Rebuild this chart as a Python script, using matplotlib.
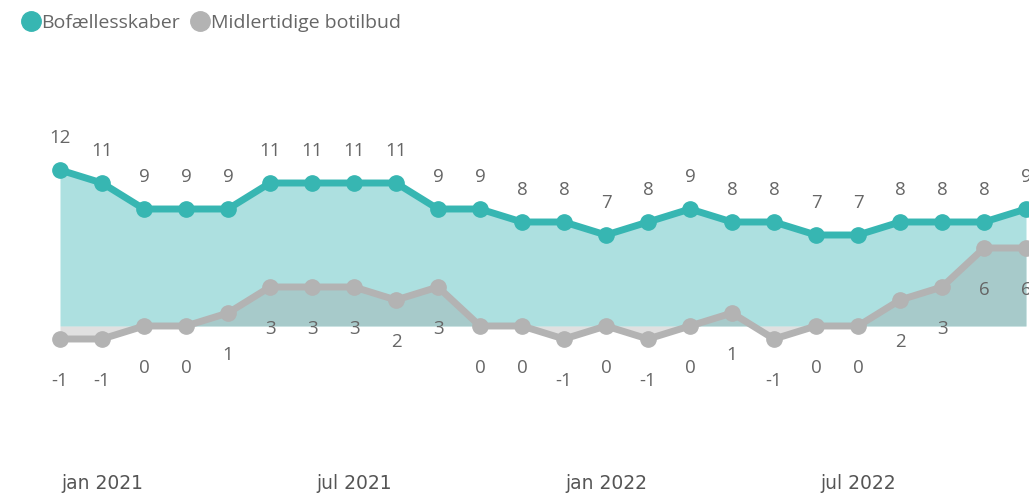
import matplotlib.pyplot as plt
from matplotlib.lines import Line2D

# monthly values, dec 2020 - nov 2022
months = list(range(24))
bofaelles = [12, 11, 9, 9, 9, 11, 11, 11, 11, 9, 9, 8, 8, 7, 8, 9, 8, 8, 7, 7, 8, 8, 8, 9]
midlertidig = [-1, -1, 0, 0, 1, 3, 3, 3, 2, 3, 0, 0, -1, 0, -1, 0, 1, -1, 0, 0, 2, 3, 6, 6]
tick_pos = [1, 7, 13, 19]
tick_labels = ["jan 2021", "jul 2021", "jan 2022", "jul 2022"]

teal = "#37B6B2"
teal_fill = "#ADE0E0"
grey = "#B3B3B3"
txt = "#666666"

plt.rcParams['font.family'] = ['Open Sans', 'DejaVu Sans']

fig = plt.figure(figsize=(10.29, 4.94), dpi=100)
ax = fig.add_axes([0, 34/494, 1, 400/494])

# pixel mapping: 42 px per month, first point at x=60
ax.set_xlim(-60/42, 23 + 3/42)
ax.set_ylim(-134/13, 266/13)

ax.fill_between(months, 0, bofaelles, color=teal_fill, lw=0, zorder=1)
ax.fill_between(months, 0, midlertidig, color="#9a9a9a", alpha=0.3, lw=0, zorder=2)
ax.plot(months, bofaelles, color=teal, lw=5, marker="o", ms=11, zorder=4,
        solid_joinstyle="round")
ax.plot(months, midlertidig, color=grey, lw=5, marker="o", ms=11, zorder=3,
        solid_joinstyle="round")

for m, v in zip(months, bofaelles):
    ax.annotate(str(v), (m, v), xytext=(0, 23), textcoords="offset points",
                ha="center", va="center", fontsize=13.5, color=txt)
for m, v in zip(months, midlertidig):
    ax.annotate(str(v), (m, v), xytext=(0, -30), textcoords="offset points",
                ha="center", va="center", fontsize=13.5, color=txt)

ax.set_xticks(tick_pos)
ax.set_xticklabels(tick_labels, fontsize=13.5, color="#555555",
                   family=['Liberation Sans Narrow', 'DejaVu Sans'])
ax.tick_params(axis="x", length=0, pad=10)
ax.set_yticks([])
for s in ax.spines.values():
    s.set_visible(False)

handles = [Line2D([], [], ls="", marker="o", ms=14, color=teal),
           Line2D([], [], ls="", marker="o", ms=14, color=grey)]
fig.legend(handles, ["Bofællesskaber", "Midlertidige botilbud"],
           loc="upper left", bbox_to_anchor=(0.008, 0.995), ncol=2, frameon=False,
           fontsize=14, labelcolor=txt, handletextpad=0.0, columnspacing=0.5,
           handlelength=1.1, borderaxespad=0.2)

plt.savefig("out.png", dpi=100)
